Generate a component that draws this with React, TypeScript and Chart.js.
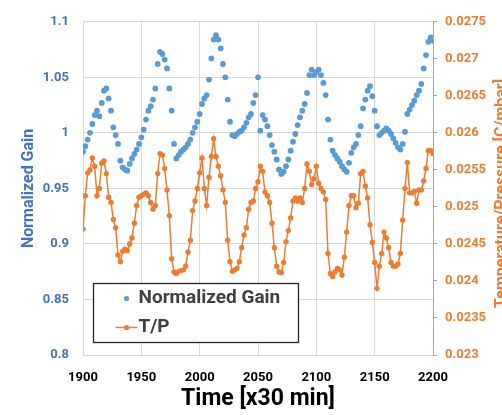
import { useEffect, useRef } from 'react';
import { Chart, registerables } from 'chart.js';

Chart.register(...registerables);

const FONT = 'Roboto';
const BLUE = '#5B9BD5';
const BLUE_TEXT = '#4472C4';
const ORANGE = '#ED7D31';
const GRID = '#d9d9d9';
const AXIS = '#a6a6a6';
const LEGEND_TEXT = '#404040';

// sampling of the time axis, in units of 30 minutes
const TIME_START = 1900;
const TIME_STEP = 2;

// normalized gain, one value per sample (1900 .. 2200)
const GAIN = [
  0.983, 0.988, 0.994, 1.000, 1.008, 1.016, 1.020, 1.015, 1.027, 1.038,
  1.040, 1.031, 1.020, 1.005, 0.998, 0.990, 0.975, 0.969, 0.967, 0.966,
  0.972, 0.977, 0.981, 0.985, 0.990, 0.996, 1.003, 1.012, 1.020, 1.024,
  1.030, 1.040, 1.062, 1.073, 1.071, 1.066, 1.058, 1.040, 1.020, 0.990,
  0.977, 0.980, 0.983, 0.985, 0.987, 0.990, 0.994, 1.000, 1.005, 1.010,
  1.017, 1.026, 1.031, 1.034, 1.048, 1.067, 1.084, 1.088, 1.084, 1.076,
  1.062, 1.050, 1.030, 1.010, 0.998, 0.997, 0.999, 1.001, 1.002, 1.005,
  1.009, 1.014, 1.017, 1.027, 1.034, 1.050, 1.002, 1.016, 1.012, 1.006,
  0.998, 0.989, 0.983, 0.976, 0.967, 0.963, 0.965, 0.970, 0.976, 0.984,
  0.992, 0.999, 1.007, 1.014, 1.020, 1.026, 1.036, 1.052, 1.057, 1.052,
  1.055, 1.057, 1.052, 1.045, 1.034, 1.012, 0.994, 0.984, 0.980, 0.977,
  0.974, 0.970, 0.967, 0.965, 0.973, 0.982, 0.987, 0.990, 0.998, 1.006,
  1.022, 1.030, 1.038, 1.042, 1.033, 1.020, 1.006, 0.998, 1.000, 1.002,
  1.004, 1.002, 0.999, 0.995, 0.991, 0.987, 0.985, 0.990, 1.001, 1.017,
  1.021, 1.025, 1.029, 1.034, 1.038, 1.044, 1.058, 1.070, 1.082, 1.086,
  1.083,
];

// temperature / pressure ratio [C/mbar], same samples
const TP = [
  0.0247, 0.02515, 0.02546, 0.0255, 0.02566, 0.02555, 0.02515, 0.02525, 0.02559, 0.02562,
  0.02545, 0.02513, 0.02506, 0.02483, 0.02472, 0.02435, 0.02426, 0.0244, 0.02443, 0.02441,
  0.0245, 0.02458, 0.02478, 0.02502, 0.02513, 0.02515, 0.02517, 0.02519, 0.02515, 0.02506,
  0.02497, 0.02502, 0.02545, 0.02572, 0.0257, 0.02552, 0.02523, 0.02488, 0.0243, 0.02412,
  0.0241, 0.02413, 0.02414, 0.02415, 0.0242, 0.02439, 0.02455, 0.02495, 0.02508, 0.02525,
  0.02546, 0.02566, 0.02525, 0.02502, 0.0254, 0.02568, 0.02592, 0.02568, 0.02555, 0.02542,
  0.02523, 0.02506, 0.02455, 0.02426, 0.02413, 0.02415, 0.02417, 0.02426, 0.02445, 0.02462,
  0.02472, 0.02497, 0.02506, 0.02508, 0.02525, 0.02534, 0.02555, 0.02548, 0.0252, 0.02515,
  0.02506, 0.02478, 0.02445, 0.0242, 0.02412, 0.02411, 0.02425, 0.02453, 0.02468, 0.02485,
  0.02508, 0.02512, 0.02508, 0.02512, 0.02506, 0.02525, 0.02558, 0.02548, 0.0253, 0.02538,
  0.02555, 0.02532, 0.02525, 0.0252, 0.0251, 0.02437, 0.0241, 0.02406, 0.02412, 0.02417,
  0.02415, 0.02408, 0.02432, 0.02466, 0.02502, 0.02515, 0.02515, 0.02499, 0.02505, 0.02545,
  0.02548, 0.02528, 0.02512, 0.02476, 0.02452, 0.02425, 0.0239, 0.0242, 0.02437, 0.02466,
  0.02458, 0.02445, 0.02425, 0.0242, 0.0242, 0.02423, 0.02437, 0.02482, 0.02525, 0.0256,
  0.02519, 0.02519, 0.02521, 0.02505, 0.02523, 0.02523, 0.02535, 0.02552, 0.02576, 0.02576,
  0.02572,
];

const TIME_TICKS = [1900, 1950, 2000, 2050, 2100, 2150, 2200];
const TIME_TICK_LABELS = ['1900', '1950', '2000', '2050', '2100', '2150', '2200'];
const GAIN_TICKS = [0.8, 0.85, 0.9, 0.95, 1, 1.05, 1.1];
const GAIN_TICK_LABELS = ['0.8', '0.85', '0.9', '0.95', '1', '1.05', '1.1'];
const TP_TICKS = [0.023, 0.0235, 0.024, 0.0245, 0.025, 0.0255, 0.026, 0.0265, 0.027, 0.0275];
const TP_TICK_LABELS = ['0.023', '0.0235', '0.024', '0.0245', '0.025', '0.0255', '0.026', '0.0265', '0.027', '0.0275'];

const TIME_TITLE = 'Time [x30 min]';
const GAIN_TITLE = 'Normalized Gain';
const TP_TITLE = 'Temperature/Pressure [C/mbar]';
const SERIES_NAMES = ['Normalized Gain', 'T/P'];

const times = GAIN.map((_, i) => TIME_START + i * TIME_STEP);

// secondary axis title, reading bottom to top, at the right edge of the canvas
const rightTitle = {
  id: 'rightTitle',
  afterDraw(chart: any) {
    const { ctx, chartArea } = chart;
    const scale = chart.scales.yTP;
    ctx.save();
    ctx.translate(scale.right, (chartArea.top + chartArea.bottom) / 2 + 5);
    ctx.rotate(-Math.PI / 2);
    ctx.font = `bold 16px ${FONT}`;
    ctx.fillStyle = ORANGE;
    ctx.textAlign = 'center';
    ctx.textBaseline = 'middle';
    ctx.fillText(TP_TITLE, 0, 0);
    ctx.restore();
  },
};

// framed legend inside the lower-left corner of the plot
const boxLegend = {
  id: 'boxLegend',
  afterDraw(chart: any) {
    const { ctx, chartArea } = chart;
    const x = Math.round(chartArea.left + 10) + 0.5;
    const y = Math.round(chartArea.bottom - 72) + 0.5;
    const w = 205;
    const h = 59;
    ctx.save();
    ctx.fillStyle = '#ffffff';
    ctx.fillRect(x, y, w, h);
    ctx.strokeStyle = '#262626';
    ctx.lineWidth = 1.3;
    ctx.strokeRect(x, y, w, h);

    const markX = x + 33;
    const textX = x + 45;
    const row1 = y + 15;
    const row2 = y + 44;

    ctx.fillStyle = BLUE;
    ctx.beginPath();
    ctx.arc(markX, row1, 2.6, 0, Math.PI * 2);
    ctx.fill();

    ctx.strokeStyle = ORANGE;
    ctx.lineWidth = 1.5;
    ctx.beginPath();
    ctx.moveTo(markX - 11, row2);
    ctx.lineTo(markX + 11, row2);
    ctx.stroke();
    ctx.fillStyle = ORANGE;
    ctx.beginPath();
    ctx.arc(markX, row2, 2.6, 0, Math.PI * 2);
    ctx.fill();

    ctx.fillStyle = LEGEND_TEXT;
    ctx.font = `bold 19px ${FONT}`;
    ctx.textAlign = 'left';
    ctx.textBaseline = 'middle';
    ctx.fillText(SERIES_NAMES[0], textX, row1);
    ctx.fillText(SERIES_NAMES[1], textX, row2);
    ctx.restore();
  },
};

export default function App() {
  const canvasRef = useRef<HTMLCanvasElement | null>(null);

  useEffect(() => {
    if (!canvasRef.current) return;
    Chart.defaults.font.family = FONT;

    const chart = new Chart(canvasRef.current, {
      type: 'line',
      data: {
        datasets: [
          {
            label: SERIES_NAMES[0],
            data: times.map((t, i) => ({ x: t, y: GAIN[i] })),
            yAxisID: 'y',
            showLine: false,
            pointRadius: 2.9,
            pointBorderWidth: 0,
            pointBackgroundColor: BLUE,
            backgroundColor: BLUE,
            borderColor: BLUE,
          },
          {
            label: SERIES_NAMES[1],
            data: times.map((t, i) => ({ x: t, y: TP[i] })),
            yAxisID: 'yTP',
            borderColor: ORANGE,
            borderWidth: 1.5,
            pointRadius: 2.7,
            pointBorderWidth: 0,
            pointBackgroundColor: ORANGE,
            backgroundColor: ORANGE,
            tension: 0,
          },
        ],
      },
      options: {
        responsive: false,
        animation: false,
        devicePixelRatio: 1,
        layout: { padding: { top: 16, left: 0, right: 0, bottom: 0 } },
        plugins: {
          legend: { display: false },
          tooltip: { enabled: false },
        },
        scales: {
          x: {
            type: 'linear',
            min: 1900,
            max: 2200,
            afterBuildTicks: (s: any) => {
              s.ticks = TIME_TICKS.map((v) => ({ value: v }));
            },
            afterFit: (s: any) => {
              s.height = 60;
            },
            ticks: {
              color: '#000000',
              font: { size: 13, weight: 'bold' },
              padding: 15,
              maxRotation: 0,
              autoSkip: false,
              callback: (_v: any, i: number) => TIME_TICK_LABELS[i],
            },
            grid: { color: GRID, drawTicks: false },
            border: { color: GRID },
            title: {
              display: true,
              text: TIME_TITLE,
              color: '#000000',
              font: { size: 23, weight: 'bold' },
              padding: { top: 0, bottom: 2 },
            },
          },
          y: {
            type: 'linear',
            position: 'left',
            min: 0.8,
            max: 1.1,
            afterBuildTicks: (s: any) => {
              s.ticks = GAIN_TICKS.map((v) => ({ value: v }));
            },
            afterFit: (s: any) => {
              s.width = 83;
            },
            ticks: {
              color: BLUE_TEXT,
              font: { size: 13, weight: 'bold' },
              padding: 14,
              callback: (_v: any, i: number) => GAIN_TICK_LABELS[i],
            },
            grid: { color: GRID, drawTicks: false },
            border: { color: GRID },
            title: {
              display: true,
              text: GAIN_TITLE,
              color: BLUE_TEXT,
              font: { size: 16, weight: 'bold' },
              padding: { top: 19, bottom: 0 },
            },
          },
          yTP: {
            type: 'linear',
            position: 'right',
            min: 0.023,
            max: 0.0275,
            afterBuildTicks: (s: any) => {
              s.ticks = TP_TICKS.map((v) => ({ value: v }));
            },
            afterFit: (s: any) => {
              s.width = 69;
            },
            ticks: {
              color: ORANGE,
              font: { size: 13, weight: 'bold' },
              padding: 8,
              callback: (_v: any, i: number) => TP_TICK_LABELS[i],
            },
            grid: { drawOnChartArea: false, drawTicks: true, tickLength: 4, color: AXIS },
            border: { color: AXIS },
          },
        },
      },
      plugins: [boxLegend, rightTitle],
    } as any);

    return () => chart.destroy();
  }, []);

  return (
    <div style={{ position: 'absolute', left: 0, top: 0, width: 502, height: 415, background: '#ffffff' }}>
      <canvas ref={canvasRef} width={502} height={415} style={{ display: 'block' }} />
    </div>
  );
}
